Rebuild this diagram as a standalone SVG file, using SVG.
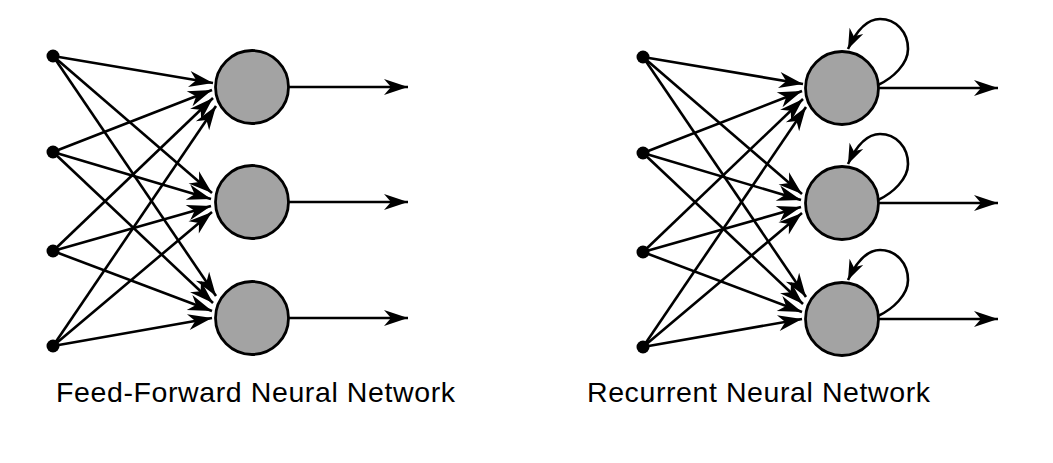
<svg xmlns="http://www.w3.org/2000/svg" width="1053" height="463" viewBox="0 0 1053 463">
<style>
.bg{fill:#ffffff}
.edge{fill:none;stroke:#000;stroke-width:2.6;marker-end:url(#ah)}
.loop{fill:none;stroke:#000;stroke-width:2.6;marker-end:url(#ahs)}
.neuron{fill:#a3a3a3;stroke:#000;stroke-width:2.8}
.input{fill:#000}
.label{font-family:"Liberation Sans",Arial,Helvetica,sans-serif;font-size:28.5px;fill:#000}
</style>
<defs>
<marker id="ah" markerUnits="userSpaceOnUse" markerWidth="30" markerHeight="20" viewBox="-25 -10 30 20" refX="0" refY="0" orient="auto" overflow="visible">
<path d="M0,0 L-24,-8 L-17,0 L-24,8 Z" fill="#000"/>
</marker>
<marker id="ahs" markerUnits="userSpaceOnUse" markerWidth="30" markerHeight="20" viewBox="-25 -10 30 20" refX="0" refY="0" orient="auto" overflow="visible">
<path d="M0,0 L-20,-7.5 L-14,0 L-20,7.5 Z" fill="#000"/>
</marker>
</defs>
<rect class="bg" x="0" y="0" width="1053" height="463"/>

<g id="feed-forward">
<g id="ff-connectors">
<line class="edge" x1="53" y1="56" x2="213" y2="83"/>
<line class="edge" x1="53" y1="152" x2="212" y2="90"/>
<line class="edge" x1="53" y1="251" x2="213" y2="98"/>
<line class="edge" x1="53" y1="346" x2="216" y2="106"/>
<line class="edge" x1="53" y1="56" x2="212" y2="193"/>
<line class="edge" x1="53" y1="152" x2="211" y2="199"/>
<line class="edge" x1="53" y1="251" x2="211" y2="206"/>
<line class="edge" x1="53" y1="346" x2="212" y2="212"/>
<line class="edge" x1="53" y1="56" x2="216" y2="296"/>
<line class="edge" x1="53" y1="152" x2="213" y2="303"/>
<line class="edge" x1="53" y1="251" x2="212" y2="311"/>
<line class="edge" x1="53" y1="346" x2="212" y2="318"/>
<line class="edge" x1="289" y1="87" x2="408" y2="87"/>
<line class="edge" x1="289" y1="202" x2="408" y2="202"/>
<line class="edge" x1="289" y1="318" x2="408" y2="318"/>
</g>
<g id="ff-in1"><circle class="input" cx="53" cy="56" r="6.5"/></g>
<g id="ff-in2"><circle class="input" cx="53" cy="152" r="6.5"/></g>
<g id="ff-in3"><circle class="input" cx="53" cy="251" r="6.5"/></g>
<g id="ff-in4"><circle class="input" cx="53" cy="346" r="6.5"/></g>
<g id="ff-n1"><circle class="neuron" cx="252" cy="87" r="36.5"/></g>
<g id="ff-n2"><circle class="neuron" cx="252" cy="202" r="36.5"/></g>
<g id="ff-n3"><circle class="neuron" cx="252" cy="318" r="36.5"/></g>
<g id="ff-label"><text class="label" x="56" y="402" textLength="399" lengthAdjust="spacing">Feed-Forward Neural Network</text></g>
</g>

<g id="recurrent" transform="translate(590,1)">
<g id="rnn-connectors">
<line class="edge" x1="53" y1="56" x2="213" y2="83"/>
<line class="edge" x1="53" y1="152" x2="212" y2="90"/>
<line class="edge" x1="53" y1="251" x2="213" y2="98"/>
<line class="edge" x1="53" y1="346" x2="216" y2="106"/>
<line class="edge" x1="53" y1="56" x2="212" y2="193"/>
<line class="edge" x1="53" y1="152" x2="211" y2="199"/>
<line class="edge" x1="53" y1="251" x2="211" y2="206"/>
<line class="edge" x1="53" y1="346" x2="212" y2="212"/>
<line class="edge" x1="53" y1="56" x2="216" y2="296"/>
<line class="edge" x1="53" y1="152" x2="213" y2="303"/>
<line class="edge" x1="53" y1="251" x2="212" y2="311"/>
<line class="edge" x1="53" y1="346" x2="212" y2="318"/>
<line class="edge" x1="289" y1="87" x2="408" y2="87"/>
<line class="edge" x1="289" y1="202" x2="408" y2="202"/>
<line class="edge" x1="289" y1="318" x2="408" y2="318"/>
<path class="loop" d="M288,84 C303,77 318,63 318,48 C318,31 306,18 290,18 C274,18 264,35 258,48"/>
<path class="loop" d="M288,199 C303,192 318,178 318,163 C318,146 306,133 290,133 C274,133 264,150 258,163"/>
<path class="loop" d="M288,315 C303,308 318,294 318,279 C318,262 306,249 290,249 C274,249 264,266 258,279"/>
</g>
<g id="rnn-in1"><circle class="input" cx="53" cy="56" r="6.5"/></g>
<g id="rnn-in2"><circle class="input" cx="53" cy="152" r="6.5"/></g>
<g id="rnn-in3"><circle class="input" cx="53" cy="251" r="6.5"/></g>
<g id="rnn-in4"><circle class="input" cx="53" cy="346" r="6.5"/></g>
<g id="rnn-n1"><circle class="neuron" cx="252" cy="87" r="36.5"/></g>
<g id="rnn-n2"><circle class="neuron" cx="252" cy="202" r="36.5"/></g>
<g id="rnn-n3"><circle class="neuron" cx="252" cy="318" r="36.5"/></g>
</g>
<g id="rnn-label"><text class="label" x="587" y="402" textLength="343" lengthAdjust="spacing">Recurrent Neural Network</text></g>
</svg>
